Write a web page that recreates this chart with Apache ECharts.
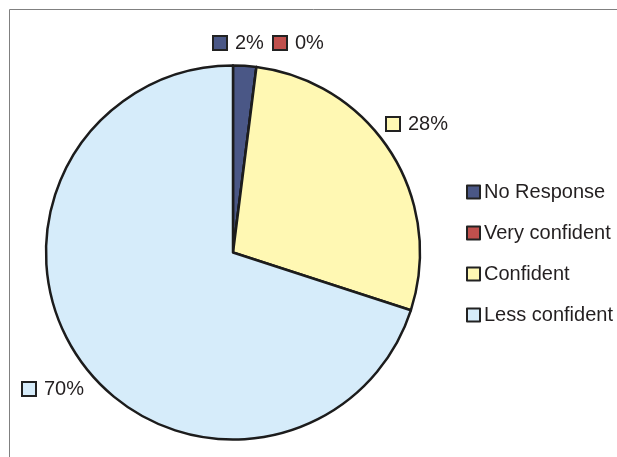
<!DOCTYPE html>
<html>
<head>
<meta charset="utf-8">
<script src="https://cdn.jsdelivr.net/npm/echarts@6/dist/echarts.min.js"></script>
<style>
  html, body { margin: 0; padding: 0; background: #fff; }
  #chart { width: 617px; height: 457px; }
</style>
</head>
<body>
<div id="chart"></div>
<script>
// Survey responses: share of answers per confidence level (percent)
var categories = ['No Response', 'Very confident', 'Confident', 'Less confident'];
var values = [2, 0, 28, 70];
var colors = ['#4a5786', '#c0504d', '#fff8b3', '#d6ecfa'];

// Where each percent label sits (label box's left edge / vertical centre)
var labelSpots = [
  { x: 214, y: 43 },
  { x: 274, y: 43 },
  { x: 387, y: 124 },
  { x: 23, y: 389 }
];

var chart = echarts.init(document.getElementById('chart'), null, { renderer: 'canvas' });

var data = categories.map(function (name, i) {
  return {
    name: name,
    value: values[i],
    itemStyle: { color: colors[i] },
    label: {
      rich: {
        box: {
          width: 12, height: 12,
          backgroundColor: colors[i],
          borderColor: '#222',
          borderWidth: 2
        }
      }
    }
  };
});

chart.setOption({
  animation: false,
  backgroundColor: '#fff',
  graphic: [{
    type: 'rect',
    shape: { x: 9.5, y: 9.5, width: 700, height: 600 },
    style: { fill: null, stroke: '#808080', lineWidth: 1 },
    silent: true,
    z: -10
  }],
  legend: {
    orient: 'vertical',
    left: 466,
    top: 182,
    padding: 0,
    itemWidth: 13,
    itemHeight: 13,
    itemGap: 21,
    icon: 'rect',
    itemStyle: { borderColor: '#222', borderWidth: 2 },
    textStyle: {
      fontFamily: 'Liberation Sans, Arial, sans-serif',
      fontSize: 20,
      lineHeight: 20,
      color: '#231f20',
      padding: [0, 0, 0, -1]
    },
    data: categories
  },
  series: [{
    type: 'pie',
    center: [233, 252.5],
    radius: [0, 187],
    startAngle: 90,
    clockwise: true,
    avoidLabelOverlap: false,
    stillShowZeroSum: true,
    itemStyle: { borderColor: '#1c1c1c', borderWidth: 2.5 },
    emphasis: { disabled: true },
    label: {
      show: true,
      position: 'outside',
      formatter: function (p) { return '{box|}{t|' + p.value + '%}'; },
      rich: {
        t: {
          fontFamily: 'Liberation Sans, Arial, sans-serif',
          fontSize: 20,
          color: '#231f20',
          padding: [0, 0, 0, 9]
        }
      }
    },
    labelLine: { show: false },
    labelLayout: function (params) {
      var s = labelSpots[params.dataIndex];
      return { x: s.x, y: s.y, align: 'left', verticalAlign: 'middle' };
    },
    data: data
  }]
});
</script>
</body>
</html>
